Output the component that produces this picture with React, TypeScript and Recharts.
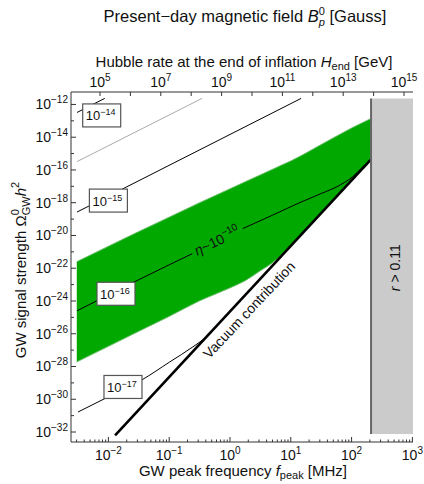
import React from "react";
import {
  ComposedChart,
  Line,
  Area,
  XAxis,
  YAxis,
  ReferenceArea,
  ReferenceLine,
  ReferenceDot,
} from "recharts";

// every value is a log10: f_peak in MHz, Omega_GW h^2, H_end in GeV
const bandLogF = [-2.52, -2.0, -1.5, -1.0, -0.5, 0.0, 0.25, 0.5, 0.7, 0.85, 1.0, 1.5, 2.0, 2.32];
const bandUpper = [-21.6, -20.66, -19.76, -18.88, -18.0, -17.15, -16.72, -16.3, -15.96, -15.7, -15.45, -14.45, -13.44, -12.86];
const bandLower = [-27.72, -26.77, -25.85, -24.94, -23.99, -23.2, -22.76, -22.15, -21.66, -21.18, -20.64, -18.64, -16.64, -15.36];

const vacuumLogF = [-1.89, 2.32];
const vacuumLogOmega = [-32.2, -15.36];

// B = 1e-16 G contour, which is also the eta ~ 1e-10 line (split where its label sits)
const etaLogF1 = [-2.516, -1.5, -0.62];
const etaLogOmega1 = [-24.6, -22.7, -21.11];
const etaLogF2 = [0.21, 0.7, 1.15, 1.5, 1.76, 2.02, 2.19, 2.32];
const etaLogOmega2 = [-19.58, -18.76, -17.99, -17.44, -17.02, -16.4, -15.79, -15.36];

const b14LogF = [-2.516, -2.06];
const b14LogOmega = [-12.49, -11.63];
const greyLogF = [-2.516, -0.46];
const greyLogOmega = [-15.49, -11.63];
const b15LogF = [-2.516, 1.17];
const b15LogOmega = [-18.57, -11.63];
const b17LogF = [-2.5, -2.07, -1.45, -0.99, -0.61, -0.41, -0.35];
const b17LogOmega = [-30.78, -29.98, -28.82, -27.72, -26.8, -26.25, -26.04];

// boxed labels of the B contours
const contourExp = [-14, -15, -16, -17];
const contourLabelLogF = [-2.11, -2.0, -1.875, -1.76];
const contourLabelLogOmega = [-12.67, -17.87, -23.56, -29.25];

// r > 0.11 excluded region
const rLimitLogF = 2.32;
const shownLogOmega = [-32.12, -11.63];

// axes
const xDomain = [-2.615, 3.01];
const yDomain = [-32.61, -11.24];
const hOffset = 9.276; // log H_end = 2 log f + hOffset
const topDomain = [2 * xDomain[0] + hOffset, 2 * xDomain[1] + hOffset];
const topTicks = [5, 6, 7, 8, 9, 10, 11, 12, 13, 14, 15];
const topLabelled = [5, 7, 9, 11, 13, 15];
const yTicks = [-32, -31, -30, -29, -28, -27, -26, -25, -24, -23, -22, -21, -20, -19, -18, -17, -16, -15, -14, -13, -12];

const xTicks: number[] = [];
for (let n = -3; n <= 3; n++) {
  for (let k = 1; k <= 9; k++) {
    const v = n + Math.log10(k);
    if (v >= xDomain[0] && v <= xDomain[1]) xTicks.push(v);
  }
}

const pts = (xs: number[], ys: number[]) => xs.map((x, i) => ({ x, y: ys[i] }));
const band = bandLogF.map((x, i) => ({ x, band: [bandLower[i], bandUpper[i]] }));
// the vacuum curve expressed against H_end, only used to bind the top/right frame axes
const vacuumVsH = vacuumLogF.map((f, i) => ({ x: 2 * f + hOffset, y: vacuumLogOmega[i] }));

const FONT = "'Liberation Sans', Arial, Helvetica, sans-serif";
const AX = "#333";
const TICK_FS = 14;
const SUP_FS = 10;
const exp = (v: number) => (v < 0 ? "\u2212" + Math.abs(v) : String(v));
const isInt = (v: number) => Math.abs(v - Math.round(v)) < 1e-6;

const BottomTick = (p: any) => {
  const { x, y, payload } = p;
  const v = payload.value;
  const major = isInt(v);
  return (
    <g>
      <line x1={x} x2={x} y1={y} y2={y - (major ? 5 : 2.5)} stroke={AX} />
      {major && (
        <text x={x} y={y + 18} textAnchor="middle" fontSize={TICK_FS} fontFamily={FONT} fill="#111">
          10<tspan dy={-6} fontSize={SUP_FS}>{exp(Math.round(v))}</tspan>
        </text>
      )}
    </g>
  );
};

const TopTick = (p: any) => {
  const { x, y, payload } = p;
  const v = payload.value;
  return (
    <g>
      <line x1={x} x2={x} y1={y} y2={y + 4} stroke={AX} />
      {topLabelled.includes(v) && (
        <text x={x} y={y - 5} textAnchor="middle" fontSize={TICK_FS} fontFamily={FONT} fill="#111">
          10<tspan dy={-6} fontSize={SUP_FS}>{exp(v)}</tspan>
        </text>
      )}
    </g>
  );
};

const LeftTick = (p: any) => {
  const { x, y, payload } = p;
  const v = payload.value;
  const major = v % 2 === 0;
  return (
    <g>
      <line x1={x} x2={x + (major ? 5 : 3)} y1={y} y2={y} stroke={AX} />
      {major && (
        <text x={x - 3} y={y + 5} textAnchor="end" fontSize={TICK_FS} fontFamily={FONT} fill="#111">
          10<tspan dy={-6} fontSize={SUP_FS}>{exp(v)}</tspan>
        </text>
      )}
    </g>
  );
};

const RightTick = (p: any) => {
  const { x, y } = p;
  return <line x1={x} x2={x - 3} y1={y} y2={y} stroke={AX} />;
};

const boxLabel = (e: number) => (p: any) => {
  const { cx, cy } = p;
  return (
    <g>
      <rect x={cx - 19} y={cy - 11.5} width={38} height={23} fill="#fff" stroke="#555" strokeWidth={1.2} />
      <text x={cx - 1} y={cy + 5} textAnchor="middle" fontSize={13} fontFamily={FONT} fill="#111">
        10<tspan dy={-5} fontSize={9}>{exp(e)}</tspan>
      </text>
    </g>
  );
};

const EtaLabel = (p: any) => (
  <text
    x={p.cx}
    y={p.cy + 5}
    transform={`rotate(-26 ${p.cx} ${p.cy})`}
    textAnchor="middle"
    fontSize={14}
    fontFamily={FONT}
    fill="#111"
  >
    <tspan fontStyle="italic">η</tspan>~10<tspan dy={-6} fontSize={10}>−10</tspan>
  </text>
);

const VacuumLabel = (p: any) => (
  <text
    x={p.cx}
    y={p.cy + 5}
    transform={`rotate(-46.8 ${p.cx} ${p.cy})`}
    textAnchor="middle"
    fontSize={14}
    fontFamily={FONT}
    fill="#111"
  >
    Vacuum contribution
  </text>
);

const RLabel = (p: any) => (
  <text
    x={p.cx}
    y={p.cy + 5}
    transform={`rotate(-90 ${p.cx} ${p.cy})`}
    textAnchor="middle"
    fontSize={14}
    fontFamily={FONT}
    fill="#111"
  >
    <tspan fontStyle="italic">r</tspan> &gt; 0.11
  </text>
);

export default function App() {
  const line = (d: { x: number; y: number }[], stroke = "#000", w = 1, key = "") => (
    <Line
      key={key}
      data={d}
      dataKey="y"
      type="monotone"
      stroke={stroke}
      strokeWidth={w}
      dot={false}
      activeDot={false}
      isAnimationActive={false}
      legendType="none"
    />
  );
  return (
    <div style={{ position: "absolute", left: 0, top: 0, width: 424, height: 484 }}>
      <ComposedChart width={424} height={484} margin={{ top: 0, right: 11, bottom: 0, left: 0 }}>
        <XAxis
          type="number"
          dataKey="x"
          domain={xDomain}
          allowDataOverflow
          ticks={xTicks}
          interval={0}
          tickSize={0}
          tickMargin={0}
          tickLine={false}
          tick={<BottomTick />}
          height={42}
          axisLine={{ stroke: AX }}
        />
        <XAxis
          xAxisId="top"
          orientation="top"
          type="number"
          dataKey="x"
          domain={topDomain}
          allowDataOverflow
          ticks={topTicks}
          interval={0}
          tickSize={0}
          tickMargin={0}
          tickLine={false}
          tick={<TopTick />}
          height={92}
          axisLine={{ stroke: AX }}
        />
        <YAxis
          type="number"
          domain={yDomain}
          allowDataOverflow
          ticks={yTicks}
          interval={0}
          tickSize={0}
          tickMargin={0}
          tickLine={false}
          tick={<LeftTick />}
          width={71}
          axisLine={{ stroke: AX }}
        />
        <YAxis
          yAxisId="right"
          orientation="right"
          type="number"
          domain={yDomain}
          allowDataOverflow
          ticks={yTicks}
          interval={0}
          tickSize={0}
          tickMargin={0}
          tickLine={false}
          tick={<RightTick />}
          width={0}
          axisLine={{ stroke: AX }}
        />

        <Area
          data={band}
          dataKey="band"
          type="monotone"
          fill="#00a800"
          fillOpacity={1}
          stroke="#6cbf6c"
          strokeWidth={1}
          isAnimationActive={false}
          activeDot={false}
          legendType="none"
        />

        {line(pts(greyLogF, greyLogOmega), "#aaa", 1, "grey")}
        {line(pts(b14LogF, b14LogOmega), "#000", 1, "b14")}
        {line(pts(b15LogF, b15LogOmega), "#000", 1, "b15")}
        {line(pts(etaLogF1, etaLogOmega1), "#000", 1, "eta1")}
        {line(pts(etaLogF2, etaLogOmega2), "#000", 1, "eta2")}
        {line(pts(b17LogF, b17LogOmega), "#000", 1, "b17")}
        {line(pts(vacuumLogF, vacuumLogOmega), "#000", 2.6, "vac")}

        <Line
          xAxisId="top"
          yAxisId="right"
          data={vacuumVsH}
          dataKey="y"
          stroke="none"
          strokeWidth={0}
          dot={false}
          activeDot={false}
          isAnimationActive={false}
          legendType="none"
        />

        <ReferenceArea
          x1={rLimitLogF}
          x2={xDomain[1]}
          y1={shownLogOmega[0]}
          y2={shownLogOmega[1]}
          fill="#cbcbcb"
          fillOpacity={1}
          stroke="none"
          ifOverflow="visible"
        />
        <ReferenceLine
          segment={[
            { x: rLimitLogF, y: shownLogOmega[0] },
            { x: rLimitLogF, y: shownLogOmega[1] },
          ]}
          stroke="#666"
          strokeWidth={2}
        />

        {contourExp.map((e, i) => (
          <ReferenceDot
            key={e}
            x={contourLabelLogF[i]}
            y={contourLabelLogOmega[i]}
            r={0}
            shape={boxLabel(e)}
          />
        ))}
        <ReferenceDot x={-0.214} y={-20.32} r={0} shape={EtaLabel} />
        <ReferenceDot x={0.3125} y={-24.54} r={0} shape={VacuumLabel} />
        <ReferenceDot x={2.714} y={-21.97} r={0} shape={RLabel} />
      </ComposedChart>

      <svg
        width={424}
        height={484}
        style={{ position: "absolute", left: 0, top: 0, pointerEvents: "none" }}
        fontFamily={FONT}
        fill="#111"
      >
        <text x={245} y={22} textAnchor="middle" fontSize={16.5}>
          Present−day magnetic field <tspan fontStyle="italic">B</tspan>
          <tspan dy={-7} fontSize={11}>0</tspan>
          <tspan dx={-6} dy={11} fontSize={11} fontStyle="italic">p</tspan>
          <tspan dy={-4}> [Gauss]</tspan>
        </text>
        <text x={244} y={67} textAnchor="middle" fontSize={15}>
          Hubble rate at the end of inflation <tspan fontStyle="italic">H</tspan>
          <tspan dy={3} fontSize={11}>end</tspan>
          <tspan dy={-3}> [GeV]</tspan>
        </text>
        <text x={243} y={476} textAnchor="middle" fontSize={15}>
          GW peak frequency <tspan fontStyle="italic">f</tspan>
          <tspan dy={3} fontSize={11}>peak</tspan>
          <tspan dy={-3}> [MHz]</tspan>
        </text>
        <text x={26} y={270} textAnchor="middle" fontSize={15} transform="rotate(-90 26 270)">
          GW signal strength  Ω<tspan dy={-7} fontSize={11}>0</tspan>
          <tspan dx={-6} dy={11} fontSize={11}>GW</tspan>
          <tspan dy={-4} fontStyle="italic">h</tspan>
          <tspan dy={-7} fontSize={11}>2</tspan>
        </text>
      </svg>
    </div>
  );
}
